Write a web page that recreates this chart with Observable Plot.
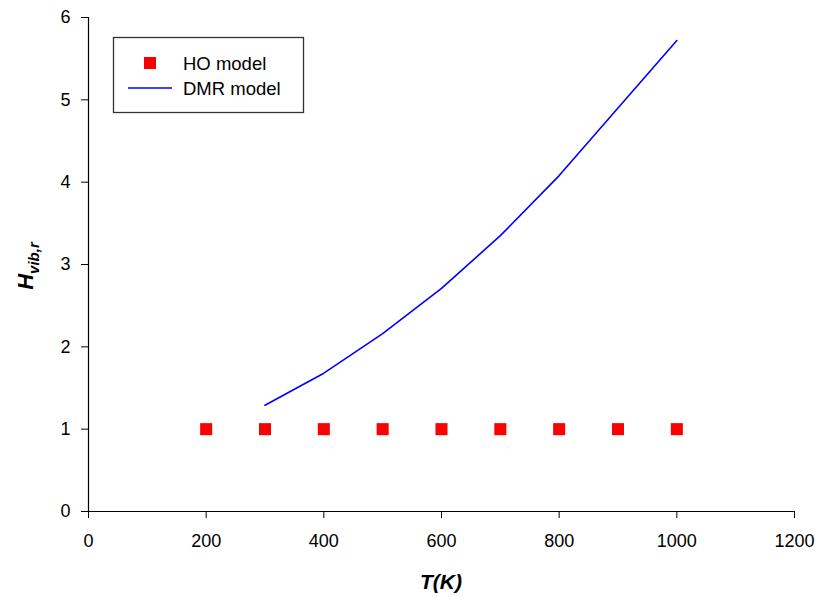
<!DOCTYPE html>
<html>
<head>
<meta charset="utf-8">
<script src="https://cdn.jsdelivr.net/npm/d3@7"></script>
<script src="https://cdn.jsdelivr.net/npm/@observablehq/plot@0.6"></script>
<style>
  body { margin: 0; background: #fff; }
  #chart { position: relative; width: 816px; height: 597px; }
  svg { font-family: "Liberation Sans", Arial, sans-serif; }
</style>
</head>
<body>
<div id="chart"></div>
<script>
// Temperatures (K) and reduced vibrational enthalpy for the two models
const hoT = [200, 300, 400, 500, 600, 700, 800, 900, 1000];
const hoH = [1, 1, 1, 1, 1, 1, 1, 1, 1];
const dmrT = [300, 400, 500, 600, 700, 800, 900, 1000];
const dmrH = [1.29, 1.68, 2.16, 2.71, 3.35, 4.08, 4.90, 5.72];
const xTicks = [0, 200, 400, 600, 800, 1000, 1200];
const yTicks = [0, 1, 2, 3, 4, 5, 6];

const ho = hoT.map((t, i) => ({T: t, H: hoH[i]}));
const dmr = dmrT.map((t, i) => ({T: t, H: dmrH[i]}));

const W = 816, H = 597;
const plot = Plot.plot({
  width: W,
  height: H,
  marginLeft: 88,
  marginRight: 22,
  marginTop: 17,
  marginBottom: 86,
  style: {fontFamily: "'Liberation Sans', Arial, sans-serif", fontSize: "18px", color: "#000", background: "#fff"},
  x: {domain: [0, 1200], label: null},
  y: {domain: [0, 6], label: null},
  marks: [
    Plot.axisX({ticks: xTicks, tickSize: 7, tickPadding: 16, fontSize: 18, tickFormat: d => String(d)}),
    Plot.axisY({ticks: yTicks, tickSize: 7, tickPadding: 11, fontSize: 18, tickFormat: d => String(d)}),
    Plot.ruleY([0], {stroke: "#000", strokeWidth: 1.2}),
    Plot.ruleX([0], {stroke: "#000", strokeWidth: 1.2}),
    Plot.line(dmr, {x: "T", y: "H", stroke: "#0000ff", strokeWidth: 1.6}),
    Plot.dot(ho, {x: "T", y: "H", symbol: "square", r: 6.8, fill: "#ff0000", stroke: "none"})
  ]
});
document.getElementById("chart").appendChild(plot);

const svg = d3.select(plot);
const xs = plot.scale("x"), ys = plot.scale("y");
const xMid = (xs.apply(0) + xs.apply(1200)) / 2;
const yMid = (ys.apply(0) + ys.apply(6)) / 2;

// Axis titles
svg.append("text")
  .attr("x", xMid).attr("y", 589)
  .attr("text-anchor", "middle")
  .attr("font-size", 21).attr("font-weight", "bold").attr("font-style", "italic")
  .attr("fill", "#000")
  .text("T(K)");

const yt = svg.append("text")
  .attr("transform", `translate(33,${yMid + 2}) rotate(-90)`)
  .attr("text-anchor", "middle")
  .attr("font-size", 22).attr("font-weight", "bold").attr("font-style", "italic")
  .attr("fill", "#000");
yt.append("tspan").text("H");
yt.append("tspan").attr("dy", 6).attr("font-size", 15).text("vib,r");

// Legend box
const lg = svg.append("g").attr("text-anchor", "start");
lg.append("rect")
  .attr("x", 113.5).attr("y", 37.5).attr("width", 190).attr("height", 75)
  .attr("fill", "#fff").attr("stroke", "#333").attr("stroke-width", 1.3);
lg.append("rect")
  .attr("x", 144).attr("y", 57).attr("width", 12).attr("height", 12)
  .attr("fill", "#ff0000");
lg.append("line")
  .attr("x1", 128).attr("x2", 172).attr("y1", 88).attr("y2", 88)
  .attr("stroke", "#0000ff").attr("stroke-width", 1.6);
lg.append("text").attr("x", 183).attr("y", 70).attr("font-size", 18.5).attr("fill", "#000").text("HO model");
lg.append("text").attr("x", 183).attr("y", 95).attr("font-size", 18.5).attr("fill", "#000").text("DMR model");
</script>
</body>
</html>
